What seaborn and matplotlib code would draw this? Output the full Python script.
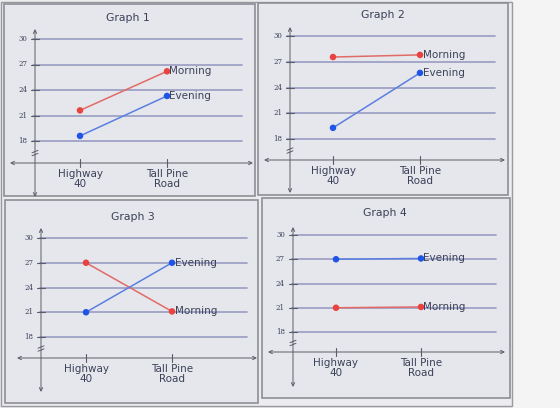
import numpy as np
import pandas as pd
import matplotlib
matplotlib.use("Agg")
import matplotlib.pyplot as plt
from matplotlib.patches import Rectangle
import seaborn as sns

sns.set_theme(style="white")
plt.rcParams['font.family'] = ['DejaVu Sans']

# ---- data ----
categories = ["Highway\n40", "Tall Pine\nRoad"]
graph_titles = ["Graph 1", "Graph 2", "Graph 3", "Graph 4"]
yticks = [18, 21, 24, 27, 30]
morning = [[21.6, 26.2], [27.55, 27.8], [27.0, 21.1], [21.0, 21.1]]
evening = [[18.6, 23.3], [19.3, 25.7], [21.0, 27.0], [27.0, 27.1]]

W, H = 560, 408
fig = plt.figure(figsize=(W / 100, H / 100), dpi=100)
fig.patch.set_facecolor("#ececef")

# layout (pixels)
panels = [
    dict(box=(4, 4, 255, 196), xh=80, xt=167, y30=39, y18=141, xa=163, ya=35,
         xl=10, xr=253, yt=29, yb=197, gl=33, gr=242, title=(128, 18)),
    dict(box=(258, 3, 508, 195), xh=333, xt=420, y30=36, y18=139, xa=160, ya=290,
         xl=264, xr=505, yt=27, yb=193, gl=287, gr=495, title=(383, 15)),
    dict(box=(5, 200, 258, 403), xh=86, xt=172, y30=238, y18=337, xa=358, ya=41,
         xl=17, xr=257, yt=228, yb=392, gl=40, gr=247, title=(133, 217)),
    dict(box=(262, 198, 510, 398), xh=336, xt=421, y30=235, y18=332, xa=352, ya=293,
         xl=268, xr=505, yt=227, yb=387, gl=292, gr=496, title=(385, 213)),
]

fig.patches.append(Rectangle((512 / W, 0), (W - 512) / W, 1, transform=fig.transFigure,
                             facecolor="#f4f4f5", edgecolor="none", zorder=-3))
fig.patches.append(Rectangle((1 / W, 1 - 406 / H), 511 / W, 404 / H, transform=fig.transFigure,
                             facecolor="none", edgecolor="#9a9a9e", lw=1.0, zorder=-2))

text_col = "#3b4158"
grid_col = "#9ea2c6"
axis_col = "#5a5d66"
red_dot, red_line = "#e8433f", "#e26a67"
blue_dot, blue_line = "#1f55e6", "#5b7fe0"

for i, p in enumerate(panels):
    L, T, R, B = p["box"]
    fig.patches.append(Rectangle((L / W, 1 - B / H), (R - L) / W, (B - T) / H,
                                 transform=fig.transFigure, facecolor="#e6e7ec",
                                 edgecolor="#8e8f96", lw=1.2, zorder=-1))
    dx = p["xt"] - p["xh"]
    dy = (p["y30"] - p["y18"]) / 12.0
    fx = lambda px: (px - p["xh"]) / dx
    fy = lambda py: 18 + (py - p["y18"]) / dy
    ax = fig.add_axes([L / W, 1 - B / H, (R - L) / W, (B - T) / H])
    ax.set_zorder(2)

    df = pd.DataFrame({
        "pos": [0, 1, 0, 1],
        "value": morning[i] + evening[i],
        "series": ["Morning", "Morning", "Evening", "Evening"],
    })
    sns.lineplot(data=df, x="pos", y="value", hue="series",
                 palette={"Morning": red_line, "Evening": blue_line},
                 lw=1.1, legend=False, ax=ax, zorder=3)
    sns.scatterplot(data=df, x="pos", y="value", hue="series",
                    palette={"Morning": red_dot, "Evening": blue_dot},
                    s=22, edgecolor="none", legend=False, ax=ax, zorder=4)
    ax.set_xlabel("")
    ax.set_ylabel("")
    ax.axis("off")
    ax.patch.set_alpha(0)
    ax.set_xlim(fx(L), fx(R))
    ax.set_ylim(fy(B), fy(T))

    # grid lines
    for yv in yticks:
        ax.plot([fx(p["gl"]), fx(p["gr"])], [yv, yv], color=grid_col, lw=1.3, zorder=1)
        ax.plot([fx(p["ya"] - 4), fx(p["ya"] + 4)], [yv, yv], color=axis_col, lw=0.8, zorder=2)
        ax.text(fx(p["ya"] - 8), yv, str(yv), ha="right", va="center", fontsize=5,
                family="DejaVu Serif", color=text_col)
    xa = fy(p["xa"])
    ya = fx(p["ya"])
    ax.annotate("", xy=(fx(p["xr"]), xa), xytext=(fx(p["xl"]), xa),
                arrowprops=dict(arrowstyle="<->", lw=0.7, color=axis_col,
                                shrinkA=0, shrinkB=0, mutation_scale=6))
    ax.annotate("", xy=(ya, fy(p["yt"])), xytext=(ya, fy(p["yb"])),
                arrowprops=dict(arrowstyle="<->", lw=0.7, color=axis_col,
                                shrinkA=0, shrinkB=0, mutation_scale=6))
    by = p["y18"] + (p["xa"] - p["y18"]) * 0.55
    for off in (-1.5, 1.5):
        ax.plot([fx(p["ya"] - 3), fx(p["ya"] + 3)], [fy(by + off + 1.2), fy(by + off - 1.2)],
                color=axis_col, lw=0.7)
    for k, c in enumerate(categories):
        ax.plot([k, k], [fy(p["xa"] - 4), fy(p["xa"] + 4)], color=axis_col, lw=0.8)
        ax.text(k, fy(p["xa"] + 6), c, ha="center", va="top", fontsize=7.5,
                color=text_col, linespacing=0.95)
    ax.text(fx(p["title"][0]), fy(p["title"][1]), graph_titles[i], ha="center",
            va="center", fontsize=7.8, color=text_col)
    for name, vals in (("Morning", morning[i]), ("Evening", evening[i])):
        ax.text(1 + 2.5 / dx, vals[1], name, ha="left", va="center", fontsize=7.5,
                color=text_col, zorder=5)

fig.savefig("out.png", dpi=100)
